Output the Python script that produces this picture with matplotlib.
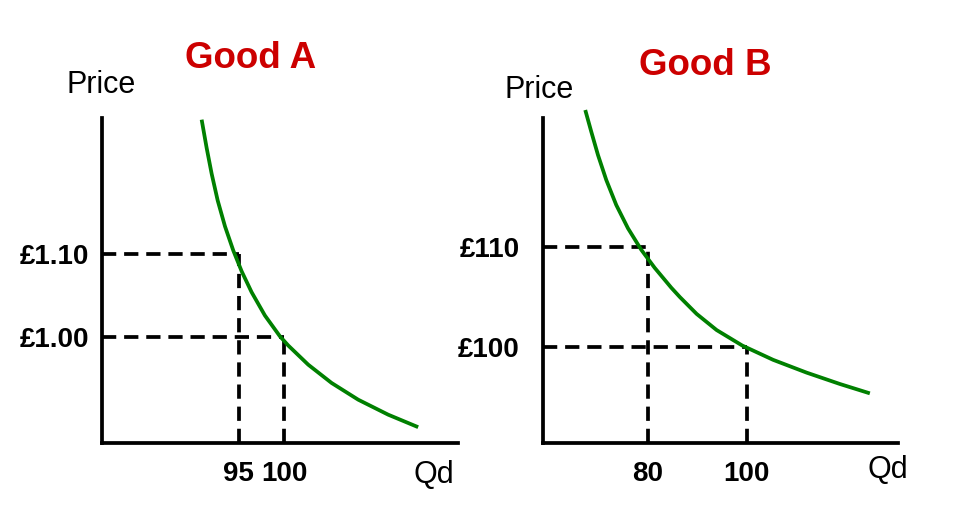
import matplotlib.pyplot as plt

plt.rcParams['font.family'] = ['Liberation Sans', 'DejaVu Sans']

# demand curve for good A (quantity, price in pounds)
qty_a = [90.93, 91.48, 92.03, 92.69, 93.49, 94.40, 95.32, 96.41, 97.87, 99.52,
         100.43, 102.62, 105.19, 108.10, 111.39, 114.68]
price_a = [1.261, 1.227, 1.196, 1.164, 1.133, 1.104, 1.079, 1.054, 1.026, 1.001,
           0.990, 0.967, 0.945, 0.925, 0.907, 0.892]
marks_qty_a = [95, 100]
marks_price_a = [1.10, 1.00]
tick_price_a = ['£1.10', '£1.00']

# demand curve for good B
qty_b = [67.39, 68.61, 69.96, 71.64, 73.66, 76.02, 78.71, 81.41, 84.77, 86.53,
         89.90, 93.94, 99.11, 105.37, 112.12, 118.85, 124.91]
price_b = [123.77, 121.59, 119.26, 116.75, 114.24, 111.91, 109.75, 107.95, 105.95, 105.0,
           103.32, 101.7, 100.15, 98.71, 97.43, 96.29, 95.35]
marks_qty_b = [80, 100]
marks_price_b = [110, 100]
tick_price_b = ['£110', '£100']

W, H = 962, 520
fig = plt.figure(figsize=(W / 100, H / 100), dpi=100)

GREEN = '#008000'
RED = '#cc0000'
LW = 2.7
DASH = (0, (3.8, 2.1))


def px(x, y):
    return x / W, 1 - y / H


def panel(rect, xlim, ylim, qty, price, mq, mp, plabels, ypad):
    left, top, right, bottom = rect
    ax = fig.add_axes([left / W, 1 - bottom / H, (right - left) / W, (bottom - top) / H])
    ax.set_xlim(*xlim)
    ax.set_ylim(*ylim)
    for s in ['top', 'right']:
        ax.spines[s].set_visible(False)
    for s in ['left', 'bottom']:
        ax.spines[s].set_linewidth(2.7)
    ax.plot(qty, price, color=GREEN, lw=LW, clip_on=False, solid_capstyle='butt',
            solid_joinstyle='round', zorder=3)
    for q, p in zip(mq, mp):
        ax.hlines(p, xlim[0], q, colors='black', lw=LW, linestyles=DASH, zorder=2)
        ax.vlines(q, ylim[0], p, colors='black', lw=LW, linestyles=DASH, zorder=2)
    ax.set_xticks(mq, [str(q) for q in mq])
    ax.set_yticks(mp, plabels)
    ax.tick_params(length=0, labelsize=20)
    ax.tick_params(axis='x', pad=13)
    ax.tick_params(axis='y', pad=ypad)
    for t in ax.get_xticklabels() + ax.get_yticklabels():
        t.set_fontweight('bold')
    ax.patch.set_visible(False)
    return ax


panel((102, 118, 458, 443), (80, 119.05), (0.873, 1.263),
      qty_a, price_a, marks_qty_a, marks_price_a, tick_price_a, 9)
panel((543, 118, 898, 443), (58.85, 130.6), (90.37, 122.97),
      qty_b, price_b, marks_qty_b, marks_price_b, tick_price_b, 17)

fig.text(*px(251, 68), 'Good A', color=RED, fontsize=26.5, fontweight='bold', ha='center', va='baseline')
fig.text(*px(705, 75), 'Good B', color=RED, fontsize=26.5, fontweight='bold', ha='center', va='baseline')
fig.text(*px(101, 93), 'Price', fontsize=22, ha='center', va='baseline')
fig.text(*px(539, 98), 'Price', fontsize=22, ha='center', va='baseline')
fig.text(*px(434, 483), 'Qd', fontsize=22, ha='center', va='baseline')
fig.text(*px(888, 478), 'Qd', fontsize=22, ha='center', va='baseline')

fig.savefig('out.png', dpi=100)
